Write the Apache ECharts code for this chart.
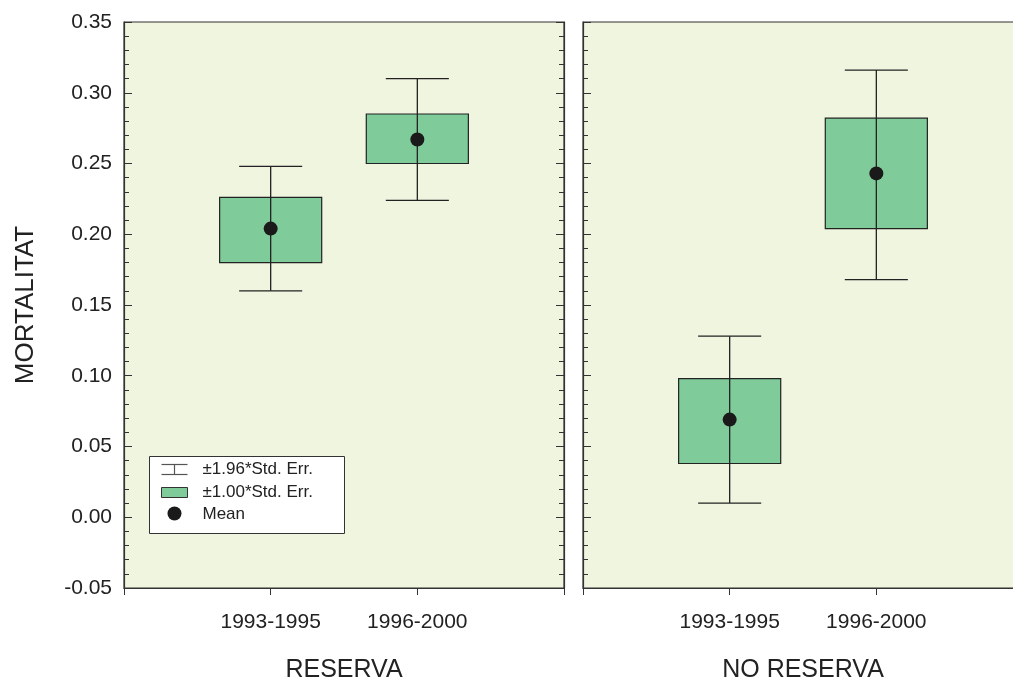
<!DOCTYPE html>
<html>
<head>
<meta charset="utf-8">
<script src="https://cdn.jsdelivr.net/npm/echarts@6/dist/echarts.min.js"></script>
<style>
  html, body { margin: 0; padding: 0; background: #fff; }
  #drew { width: 1013px; height: 680px; }
</style>
</head>
<body>
<div id="drew"></div>
<script>
// periods on the x axis (placed at x = 1 and x = 2)
var periods = ['1993-1995', '1996-2000'];
var panels = ['RESERVA', 'NO RESERVA'];

// RESERVA
var resWhiskerLow  = [0.160, 0.224];
var resBoxLow      = [0.180, 0.250];
var resMean        = [0.204, 0.267];
var resBoxHigh     = [0.226, 0.285];
var resWhiskerHigh = [0.248, 0.310];

// NO RESERVA
var noWhiskerLow  = [0.010, 0.168];
var noBoxLow      = [0.038, 0.204];
var noMean        = [0.069, 0.243];
var noBoxHigh     = [0.098, 0.282];
var noWhiskerHigh = [0.128, 0.316];

var yTicks = [-0.05, 0.35, 0.05]; // min, max, interval

function rows(wl, bl, m, bh, wh) {
    return periods.map(function (p, i) {
        return [i + 1, wl[i], bl[i], m[i], bh[i], wh[i]];
    });
}

var ink = '#222';
var font = 'Liberation Sans, Arial, sans-serif';

function renderBox(params, api) {
    var x = api.value(0);
    var wl = api.coord([x, api.value(1)]);
    var bl = api.coord([x, api.value(2)]);
    var m = api.coord([x, api.value(3)]);
    var bh = api.coord([x, api.value(4)]);
    var wh = api.coord([x, api.value(5)]);
    var boxHalf = api.size([0.348, 0])[0];
    var capHalf = api.size([0.215, 0])[0];
    var lineStyle = { stroke: ink, lineWidth: 1.3 };
    return {
        type: 'group',
        children: [
            { type: 'rect', shape: { x: bh[0] - boxHalf, y: bh[1], width: boxHalf * 2, height: bl[1] - bh[1] },
              style: { fill: '#80cb9a', stroke: ink, lineWidth: 1.2 } },
            { type: 'line', shape: { x1: wl[0], y1: wl[1], x2: wh[0], y2: wh[1] }, style: lineStyle },
            { type: 'line', shape: { x1: wl[0] - capHalf, y1: wl[1], x2: wl[0] + capHalf, y2: wl[1] }, style: lineStyle },
            { type: 'line', shape: { x1: wh[0] - capHalf, y1: wh[1], x2: wh[0] + capHalf, y2: wh[1] }, style: lineStyle },
            { type: 'circle', shape: { cx: m[0], cy: m[1], r: 7 }, style: { fill: '#1a1a1a' } }
        ]
    };
}

var gridBase = { top: 22, height: 566, width: 440, show: true, backgroundColor: '#f0f5df',
                 borderColor: '#333', borderWidth: 1.2, outerBoundsMode: 'none', containLabel: false };

function xAxis(idx, name) {
    return {
        type: 'value', gridIndex: idx, min: 0, max: 3, interval: 1,
        name: name, nameLocation: 'middle', nameGap: 70,
        nameTextStyle: { fontSize: 25, color: ink, fontFamily: font },
        axisLine: { onZero: false, lineStyle: { color: '#333', width: 1.2 } },
        axisTick: { inside: false, length: 7, lineStyle: { color: '#333' } },
        axisLabel: { margin: 24, fontSize: 21, color: ink, fontFamily: font,
                     formatter: function (v) { return periods[v - 1] || ''; } },
        splitLine: { show: false }
    };
}

function yAxis(idx, position, labels, name) {
    return {
        type: 'value', gridIndex: idx, position: position,
        min: yTicks[0], max: yTicks[1], interval: yTicks[2],
        name: name || '', nameLocation: 'middle', nameGap: 85,
        nameTextStyle: { fontSize: 26, color: ink, fontFamily: font },
        axisLine: { show: true, onZero: false, lineStyle: { color: '#333', width: 1.2 } },
        axisTick: { inside: true, length: 8, lineStyle: { color: '#333' } },
        minorTick: { show: true, splitNumber: 5, length: 5, lineStyle: { color: '#333' } },
        axisLabel: { show: labels, margin: 12, fontSize: 21, color: ink, fontFamily: font,
                     formatter: function (v) { return v.toFixed(2); } },
        splitLine: { show: false }, minorSplitLine: { show: false }
    };
}

var myChart = echarts.init(document.getElementById('drew'));
var option = {
    backgroundColor: '#fff',
    animation: false,
    grid: [
        Object.assign({ left: 124 }, gridBase),
        Object.assign({ left: 583 }, gridBase)
    ],
    xAxis: [xAxis(0, panels[0]), xAxis(1, panels[1])],
    yAxis: [
        yAxis(0, 'left', true, 'MORTALITAT'),
        yAxis(0, 'right', false),
        yAxis(1, 'left', false)
    ],
    series: [
        { type: 'custom', name: panels[0], xAxisIndex: 0, yAxisIndex: 0, renderItem: renderBox,
          data: rows(resWhiskerLow, resBoxLow, resMean, resBoxHigh, resWhiskerHigh) },
        { type: 'custom', name: panels[1], xAxisIndex: 1, yAxisIndex: 2, renderItem: renderBox,
          data: rows(noWhiskerLow, noBoxLow, noMean, noBoxHigh, noWhiskerHigh) }
    ],
    graphic: [{
        type: 'group', left: 149, top: 456, z: 100,
        children: [
            { type: 'rect', shape: { x: 0, y: 0, width: 195, height: 77 },
              style: { fill: '#fff', stroke: '#333', lineWidth: 1 } },
            { type: 'line', shape: { x1: 12, y1: 8, x2: 38, y2: 8 }, style: { stroke: '#555', lineWidth: 1.2 } },
            { type: 'line', shape: { x1: 25, y1: 8, x2: 25, y2: 18 }, style: { stroke: '#555', lineWidth: 1.2 } },
            { type: 'line', shape: { x1: 12, y1: 18, x2: 38, y2: 18 }, style: { stroke: '#555', lineWidth: 1.2 } },
            { type: 'text', x: 53, y: 13, style: { text: '±1.96*Std. Err.', fontSize: 17, fill: ink, fontFamily: font, verticalAlign: 'middle' } },
            { type: 'rect', shape: { x: 12, y: 31, width: 26, height: 10 },
              style: { fill: '#80cb9a', stroke: '#333', lineWidth: 1 } },
            { type: 'text', x: 53, y: 36, style: { text: '±1.00*Std. Err.', fontSize: 17, fill: ink, fontFamily: font, verticalAlign: 'middle' } },
            { type: 'circle', shape: { cx: 25, cy: 57, r: 7 }, style: { fill: '#1a1a1a' } },
            { type: 'text', x: 53, y: 58, style: { text: 'Mean', fontSize: 17, fill: ink, fontFamily: font, verticalAlign: 'middle' } }
        ]
    }]
};
myChart.setOption(option);
window.addEventListener('resize', function () { myChart.resize(); });
</script>
</body>
</html>
